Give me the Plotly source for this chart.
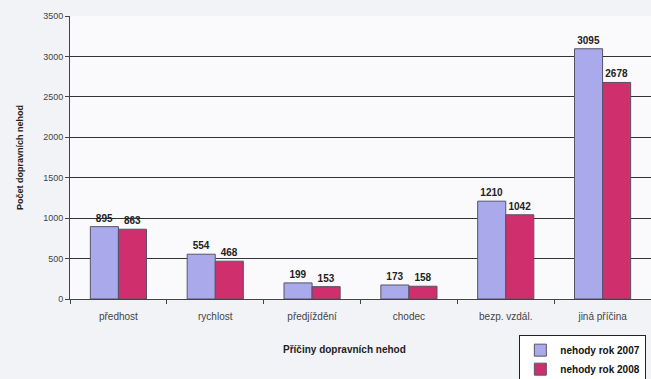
import plotly.graph_objects as go

categories = ["předhost", "rychlost", "předjíždění", "chodec", "bezp. vzdál.", "jiná příčina"]
values_2007 = [895, 554, 199, 173, 1210, 3095]
values_2008 = [863, 468, 153, 158, 1042, 2678]
series_names = ["nehody rok 2007", "nehody rok 2008"]
y_ticks = [0, 500, 1000, 1500, 2000, 2500, 3000, 3500]
x_title = "Příčiny dopravních nehod"
y_title = "Počet dopravních nehod"

FONT = "Liberation Sans, Arial, sans-serif"

fig = go.Figure()
for name, vals, col in [(series_names[0], values_2007, "#a9a9ec"),
                        (series_names[1], values_2008, "#cf2f6c")]:
    fig.add_trace(go.Bar(
        x=categories, y=vals, name="<b>" + name + "</b>",
        marker=dict(color=col, line=dict(color="#555566", width=1)),
        text=vals, texttemplate="<b>%{text}</b>", textposition="outside",
        textfont=dict(family=FONT, size=10, color="#222222"),
        cliponaxis=False,
    ))

fig.add_annotation(
    text="<b>" + x_title + "</b>", xref="paper", yref="paper",
    x=0.472, y=-0.18, xanchor="center", yanchor="middle", showarrow=False,
    font=dict(family=FONT, size=10, color="#222222"),
)

fig.update_layout(
    width=651, height=379,
    margin=dict(l=70, r=0, t=16, b=80),
    barmode="group", bargap=0.42, bargroupgap=0,
    paper_bgcolor="#f2f3f7", plot_bgcolor="#fafafc",
    font=dict(family=FONT, size=10, color="#333333"),
    showlegend=True,
    legend=dict(
        xref="paper", yref="container",
        x=0.992, xanchor="right", y=0.117, yanchor="top",
        bordercolor="#222222", borderwidth=1, bgcolor="#ffffff",
        font=dict(family=FONT, size=10, color="#111111"),
        itemwidth=30, tracegroupgap=0,
    ),
    xaxis=dict(
        automargin=False,
        showline=True, linecolor="#444444", linewidth=1,
        ticks="outside", tickson="boundaries", ticklen=4, tickcolor="#444444",
        ticklabelstandoff=8,
        tickfont=dict(family=FONT, size=10, color="#444444"),
    ),
    yaxis=dict(
        automargin=False,
        range=[0, 3500], tickvals=y_ticks,
        showline=True, linecolor="#444444", linewidth=1,
        ticks="outside", ticklen=4, tickcolor="#444444",
        showgrid=True, gridcolor="#333333", gridwidth=1,
        tickfont=dict(family=FONT, size=9, color="#444444"),
        title=dict(text="<b>" + y_title + "</b>", standoff=18,
                   font=dict(family=FONT, size=9, color="#222222")),
    ),
)

fig.write_html("out.html")
